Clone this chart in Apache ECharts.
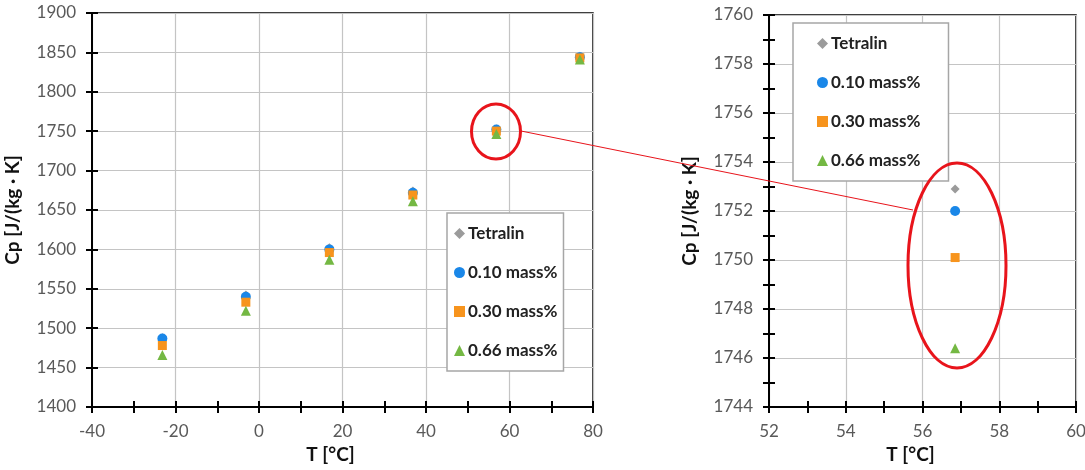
<!DOCTYPE html>
<html>
<head>
<meta charset="utf-8">
<script src="https://cdn.jsdelivr.net/npm/echarts@6/dist/echarts.min.js"></script>
<style>
  html, body { margin: 0; padding: 0; background: #fff; }
  #chart { width: 1085px; height: 470px; }
</style>
</head>
<body>
<div id="chart"></div>
<script>
const temps = [-23.15, -3.15, 16.85, 36.85, 56.85, 76.85]
const tetralin = [1488, 1542, 1602, 1674, 1752.9, 1845]
const mass010 = [1487, 1540, 1600, 1672, 1752.0, 1844]
const mass030 = [1478, 1533, 1596, 1669, 1750.1, 1843]
const mass066 = [1466, 1522, 1587, 1661, 1746.4, 1841]
const zoomIndex = 4

const seriesNames = ['Tetralin', '0.10 mass%', '0.30 mass%', '0.66 mass%']
const seriesValues = [tetralin, mass010, mass030, mass066]
const seriesSymbols = ['diamond', 'circle', 'rect', 'triangle']
const seriesColors = ['#9b9b9b', '#1a87e8', '#f7941d', '#74b843']
const symbolSizes = [9, 10, 9, 10]

const font = 'Lato, "Open Sans", sans-serif'
const tickColor = '#595959'

const chart = echarts.init(document.getElementById('chart'))

// main axis: labels, name, grid lines
function mainAxis(gridIndex, min, max, interval, name, isY) {
  return {
    type: 'value',
    gridIndex,
    position: isY ? 'left' : 'bottom',
    min,
    max,
    interval,
    name,
    nameLocation: 'middle',
    nameGap: isY ? 70 : 38,
    nameMoveOverlap: false,
    nameTextStyle: {
      fontFamily: font,
      fontSize: 19,
      fontWeight: 'bold',
      color: '#111',
      padding: isY ? [0, 0, 0, 0] : [0, 24, 0, 0],
    },
    axisLine: { show: true, onZero: false, lineStyle: { color: '#000', width: 2 } },
    axisTick: { show: false },
    axisLabel: {
      fontFamily: font,
      fontSize: 17,
      color: tickColor,
      margin: isY ? 16 : 16,
      formatter: (v) => String(v),
    },
    splitLine: { show: true, lineStyle: { color: '#c4c4c4', width: 1.2 } },
  }
}

// twin axes draw the crossing ticks; the one with offset gives the outside half
function tickAxis(gridIndex, min, max, interval, minor, isY, offset) {
  return {
    type: 'value',
    gridIndex,
    position: isY ? 'left' : 'bottom',
    offset,
    min,
    max,
    interval,
    axisLine: { show: false, onZero: false },
    axisTick: { show: true, inside: true, length: 6, lineStyle: { color: '#000', width: 2 } },
    minorTick: { show: minor, splitNumber: 2, length: 6, lineStyle: { color: '#000', width: 2 } },
    axisLabel: { show: false },
    splitLine: { show: false },
  }
}

const series = []
seriesNames.forEach((name, i) => {
  series.push({
    name,
    type: 'scatter',
    xAxisIndex: 0,
    yAxisIndex: 0,
    symbol: seriesSymbols[i],
    symbolSize: symbolSizes[i],
    itemStyle: { color: seriesColors[i], opacity: 1 },
    data: temps.map((t, k) => [t, seriesValues[i][k]]),
  })
  series.push({
    name,
    type: 'scatter',
    xAxisIndex: 1,
    yAxisIndex: 1,
    symbol: seriesSymbols[i],
    symbolSize: symbolSizes[i],
    itemStyle: { color: seriesColors[i], opacity: 1 },
    data: [[temps[zoomIndex], seriesValues[i][zoomIndex]]],
  })
})

const legendBase = {
  orient: 'vertical',
  data: seriesNames.map((n, i) => ({ name: n, icon: seriesSymbols[i] })),
  itemWidth: 11,
  itemHeight: 11,
  itemGap: 22,
  backgroundColor: '#fff',
  borderColor: '#a6a6a6',
  borderWidth: 1.5,
  borderRadius: 0,
  selectedMode: false,
  textStyle: { fontFamily: font, fontSize: 17, fontWeight: 'bold', color: '#222', padding: [0, 0, 0, -2] },
}

const gridBase = { show: true, borderColor: '#000', borderWidth: 1.5, outerBoundsMode: 'none', containLabel: false }

const option = {
  animation: false,
  backgroundColor: '#fff',
  grid: [
    Object.assign({}, gridBase, { left: 92, top: 13, width: 501, height: 394 }),
    Object.assign({}, gridBase, { left: 769, top: 15, width: 307, height: 392 }),
  ],
  xAxis: [
    mainAxis(0, -40, 80, 20, 'T [°C]', false),
    mainAxis(1, 52, 60, 2, 'T [°C]', false),
    tickAxis(0, -40, 80, 20, true, false, 0),
    tickAxis(0, -40, 80, 20, true, false, 6),
    tickAxis(1, 52, 60, 2, true, false, 0),
    tickAxis(1, 52, 60, 2, true, false, 6),
  ],
  yAxis: [
    mainAxis(0, 1400, 1900, 50, 'Cp [J/(kg · K]', true),
    mainAxis(1, 1744, 1760, 2, 'Cp [J/(kg · K]', true),
    tickAxis(0, 1400, 1900, 50, false, true, 0),
    tickAxis(0, 1400, 1900, 50, false, true, 6),
    tickAxis(1, 1744, 1760, 2, true, true, 0),
    tickAxis(1, 1744, 1760, 2, true, true, 6),
  ],
  legend: [
    Object.assign({}, legendBase, { left: 447, top: 213, padding: [12, 6, 12, 7] }),
    Object.assign({}, legendBase, { left: 793, top: 23, padding: [12, 28, 12, 24] }),
  ],
  graphic: [
    {
      type: 'ellipse',
      shape: { cx: 496, cy: 131.5, rx: 24.5, ry: 27.5 },
      style: { fill: 'none', stroke: '#e8141b', lineWidth: 3 },
      z: 100,
    },
    {
      type: 'line',
      shape: { x1: 521, y1: 131, x2: 913, y2: 210 },
      style: { stroke: '#e8141b', lineWidth: 1 },
      z: 100,
    },
    {
      type: 'ellipse',
      shape: { cx: 957, cy: 265.5, rx: 49, ry: 102.5 },
      style: { fill: 'none', stroke: '#e8141b', lineWidth: 3 },
      z: 100,
    },
  ],
  series,
}

chart.setOption(option)
</script>
</body>
</html>
